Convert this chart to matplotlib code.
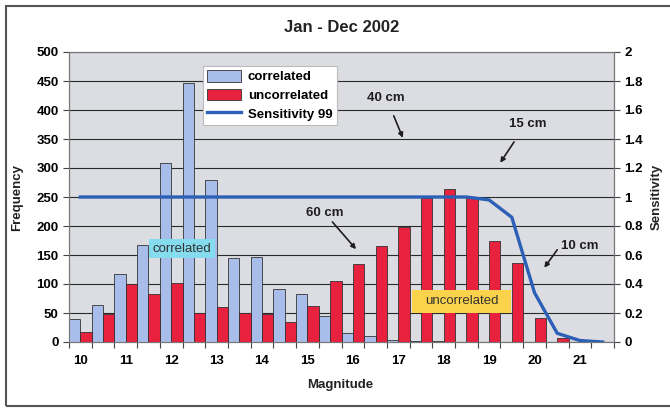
import numpy as np
import matplotlib
matplotlib.use("Agg")
import matplotlib.pyplot as plt
from matplotlib.patches import Rectangle

plt.rcParams['font.family'] = ['Liberation Sans', 'DejaVu Sans']

# --- data ---
magnitudes = ['10', '10.5', '11', '11.5', '12', '12.5', '13', '13.5', '14', '14.5',
              '15', '15.5', '16', '16.5', '17', '17.5', '18', '18.5', '19', '19.5',
              '20', '20.5', '21', '21.5']
tick_labels = ['10', '11', '12', '13', '14', '15', '16', '17', '18', '19', '20', '21']
correlated = [40, 63, 117, 168, 308, 447, 279, 145, 146, 92, 82, 44,
              16, 10, 4, 1, 1, 0, 0, 0, 0, 0, 0, 0]
uncorrelated = [17, 49, 100, 83, 101, 50, 61, 50, 49, 35, 62, 105,
                135, 166, 199, 248, 264, 250, 175, 137, 42, 7, 0, 0]
sensitivity = [1, 1, 1, 1, 1, 1, 1, 1, 1, 1, 1, 1,
               1, 1, 1, 1, 1, 1, 0.98, 0.86, 0.34, 0.06, 0.01, 0.0]

blue = '#a9bdea'
red = '#e8223e'
line_col = '#2c5fb6'
fs = 9.5

fig = plt.figure(figsize=(6.70, 4.08), dpi=100)
ax = fig.add_axes([69 / 670, 1 - 342 / 408, 545 / 670, 290 / 408])
ax.set_facecolor('#dcdde2')

x = np.arange(len(magnitudes))
ax.bar(x + 0.25, correlated, width=0.5, color=blue, edgecolor='#333333', linewidth=0.6,
       label='correlated', zorder=3)
ax.bar(x + 0.75, uncorrelated, width=0.5, color=red, edgecolor='#333333', linewidth=0.6,
       label='uncorrelated', zorder=3)

ax.set_xlim(0, len(magnitudes))
ax.set_ylim(0, 500)
ax.set_yticks(np.arange(0, 501, 50))
ax.yaxis.grid(True, color='#2a2a2a', linewidth=0.8, zorder=1)
ax.set_axisbelow(True)

# tick marks at category boundaries, labels under every other category
ax.set_xticks(np.arange(0, len(magnitudes) + 1))
ax.set_xticklabels([])
ax.set_xticks(np.arange(0, len(magnitudes), 2) + 0.5, minor=True)
ax.set_xticklabels(tick_labels, minor=True, fontsize=fs, fontweight='bold')
ax.tick_params(axis='x', which='minor', length=0, pad=9)
ax.tick_params(axis='x', which='major', length=4, direction='out', color='#444')
ax.tick_params(axis='y', length=4, direction='out', color='#444', labelsize=fs)
for lab in ax.get_yticklabels():
    lab.set_fontweight('bold')
for sp in ax.spines.values():
    sp.set_color('#777777')

# sensitivity on the right axis
ax2 = ax.twinx()
ax2.plot(x + 0.5, sensitivity, color=line_col, lw=2.4, label='Sensitivity 99', zorder=5)
ax2.set_ylim(0, 2)
ax2.set_yticks(np.arange(0, 2.01, 0.2))
ax2.set_yticklabels(['0', '0.2', '0.4', '0.6', '0.8', '1', '1.2', '1.4', '1.6', '1.8', '2'],
                    fontsize=fs, fontweight='bold')
ax2.tick_params(axis='y', length=4, direction='out', color='#444')
for sp in ax2.spines.values():
    sp.set_color('#777777')

# text boxes
ax.add_patch(Rectangle((3.52, 144.8), 2.91, 32.8, facecolor='#86dcef', edgecolor='none', zorder=6))
ax.text(4.98, 161, 'correlated', ha='center', va='center', fontsize=fs, color='#333333', zorder=7)
ax.add_patch(Rectangle((15.11, 50), 4.36, 39.7, facecolor='#fbd24c', edgecolor='none', zorder=6))
ax.text(17.29, 70, 'uncorrelated', ha='center', va='center', fontsize=fs, color='#333333', zorder=7)

# arrow annotations
arrow = dict(arrowstyle='-|>', lw=1.2, color='#1e1e1e', mutation_scale=7,
             shrinkA=0, shrinkB=0)
notes = [('40 cm', (13.96, 421), (14.3, 390), (14.7, 352)),
         ('60 cm', (11.28, 222), (11.6, 207), (12.64, 160)),
         ('15 cm', (20.18, 376), (19.6, 345), (18.99, 309)),
         ('10 cm', (22.5, 166), (21.5, 159), (20.93, 128))]
for txt, tpos, tail, head in notes:
    ax.text(tpos[0], tpos[1], txt, ha='center', va='center', fontsize=fs,
            fontweight='bold', color='#1e1e1e', zorder=7)
    ax.annotate('', xy=head, xytext=tail, arrowprops=arrow, zorder=7)

# legend
h1, l1 = ax.get_legend_handles_labels()
h2, l2 = ax2.get_legend_handles_labels()
leg = ax2.legend(h1 + h2, l1 + l2, loc='upper left', bbox_to_anchor=(0.246, 0.952),
                 borderaxespad=0, fancybox=False, framealpha=1, edgecolor='#bbbbbb',
                 prop={'size': fs, 'weight': 'bold'}, handlelength=2.6, handleheight=1.0,
                 labelspacing=0.4, borderpad=0.3, handletextpad=0.5)
leg.get_frame().set_linewidth(0.8)

# titles and axis labels
fig.text(342 / 670, 1 - 27 / 408, 'Jan - Dec 2002', ha='center', va='center',
         fontsize=12, fontweight='bold', color='#222222')
fig.text(340 / 670, 1 - 385 / 408, 'Magnitude', ha='center', va='center',
         fontsize=fs, fontweight='bold', color='#222222')
fig.text(17 / 670, 1 - 197 / 408, 'Frequency', ha='center', va='center', rotation=90,
         fontsize=fs, fontweight='bold', color='#222222')
fig.text(657 / 670, 1 - 197 / 408, 'Sensitivity', ha='center', va='center', rotation=90,
         fontsize=fs, fontweight='bold', color='#222222')

# outer frame around the chart
fig.patches.append(Rectangle((6 / 670, 2 / 408), 1.0, 1 - 8 / 408, transform=fig.transFigure,
                             fill=False, edgecolor='#555555', linewidth=1.5))

fig.savefig('out.png', dpi=100)
